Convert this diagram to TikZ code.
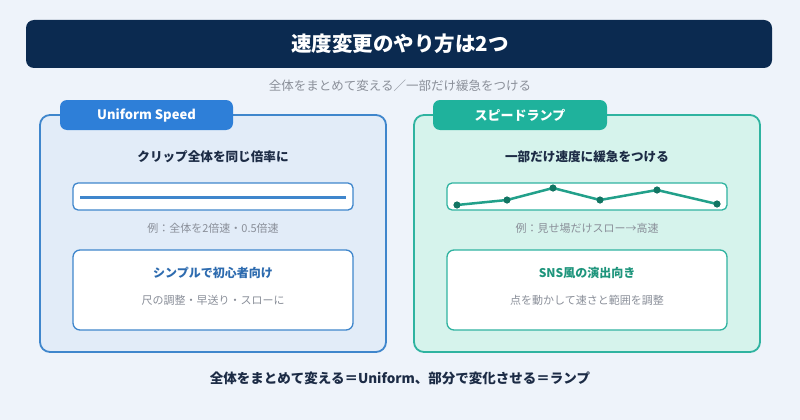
\documentclass[tikz,border=0pt]{standalone}
\usepackage{fontspec}
\setmainfont{Noto Sans CJK JP}
\definecolor{bg}{HTML}{EEF3FA}
\definecolor{navy}{HTML}{0B2A50}
\definecolor{bluebd}{HTML}{3F86CC}
\definecolor{bluetab}{HTML}{2E7FD8}
\definecolor{bluefill}{HTML}{E2ECF8}
\definecolor{tealbd}{HTML}{2FB3A0}
\definecolor{tealtab}{HTML}{1FB29C}
\definecolor{tealfill}{HTML}{D6F3EC}
\definecolor{headtxt}{HTML}{1C2B45}
\definecolor{graytxt}{HTML}{8A8F99}
\definecolor{bluetxt}{HTML}{2D6BAF}
\definecolor{tealtxt}{HTML}{1E957C}
\definecolor{tealline}{HTML}{22A08A}
\definecolor{tealdot}{HTML}{127563}
\tikzset{
  panel/.style={rounded corners=10pt, line width=1.8pt},
  tabbox/.style={rounded corners=7pt},
  tabtxt/.style={text=white, font=\fontsize{13}{15}\selectfont\bfseries},
  head/.style={text=headtxt, font=\fontsize{12.6}{15}\selectfont\bfseries},
  note/.style={text=graytxt, font=\fontsize{11}{13}\selectfont},
  inner/.style={rounded corners=7pt, fill=white, line width=1.3pt},
  dot/.style={circle, fill=tealdot, inner sep=0pt, minimum size=7pt}
}
\begin{document}
\begin{tikzpicture}[x=1pt,y=-1pt]
\fill[bg] (0,0) rectangle (800,420);
\useasboundingbox (0,0) rectangle (800,420);
% title
\fill[navy, rounded corners=8pt] (26,20) rectangle (772,68);
\node[text=white, font=\fontsize{20.5}{24}\selectfont\bfseries] (title) at (400,44) {速度変更のやり方は2つ};
\node[text=graytxt, font=\fontsize{12.5}{15}\selectfont] (sub) at (400,86) {全体をまとめて変える／一部だけ緩急をつける};
% left panel
\draw[panel, draw=bluebd, fill=bluefill] (40,115) rectangle (386,352);
\fill[tabbox, bluetab] (60,100) rectangle (233,130);
\node[tabtxt] (ltab) at (146.5,115.5) {Uniform Speed};
\node[head] (lhead) at (213,157) {クリップ全体を同じ倍率に};
\draw[rounded corners=5pt, fill=white, draw=bluebd, line width=1.3pt] (73,183) rectangle (353,210);
\coordinate (l1) at (80,197);
\coordinate (l2) at (346,197);
\draw[bluebd, line width=3pt] (l1) -- (l2);
\node[note] (lnote) at (213,228) {例：全体を2倍速・0.5倍速};
\draw[inner, draw=bluebd] (73,250) rectangle (353,330);
\node[text=bluetxt, font=\fontsize{12}{14}\selectfont\bfseries] (lib) at (213,273) {シンプルで初心者向け};
\node[note] (lis) at (213,300) {尺の調整・早送り・スローに};
% right panel
\draw[panel, draw=tealbd, fill=tealfill] (414,115) rectangle (760,352);
\fill[tabbox, tealtab] (433,100) rectangle (607,130);
\node[tabtxt] (rtab) at (520,115.5) {スピードランプ};
\node[head] (rhead) at (587,157) {一部だけ速度に緩急をつける};
\draw[rounded corners=5pt, fill=white, draw=tealbd, line width=1.3pt] (447,183) rectangle (727,210);
\node[dot] (p1) at (457,205) {};
\node[dot] (p2) at (507,200) {};
\node[dot] (p3) at (553,188) {};
\node[dot] (p4) at (600,200) {};
\node[dot] (p5) at (657,190) {};
\node[dot] (p6) at (717,204) {};
\draw[tealline, line width=2.5pt, line join=round] (p1.center) -- (p2.center) -- (p3.center) -- (p4.center) -- (p5.center) -- (p6.center);
\foreach \p in {p1,p2,p3,p4,p5,p6} \fill[tealdot] (\p) circle (3.4pt);
\node[note] (rnote) at (587,228) {例：見せ場だけスロー→高速};
\draw[inner, draw=tealbd] (447,250) rectangle (727,330);
\node[text=tealtxt, font=\fontsize{12}{14}\selectfont\bfseries] (rib) at (587,273) {SNS風の演出向き};
\node[note] (ris) at (587,300) {点を動かして速さと範囲を調整};
% bottom
\node[text=headtxt, font=\fontsize{13.5}{16}\selectfont\bfseries] (bottom) at (400,378) {全体をまとめて変える＝Uniform、部分で変化させる＝ランプ};
\end{tikzpicture}
\end{document}
